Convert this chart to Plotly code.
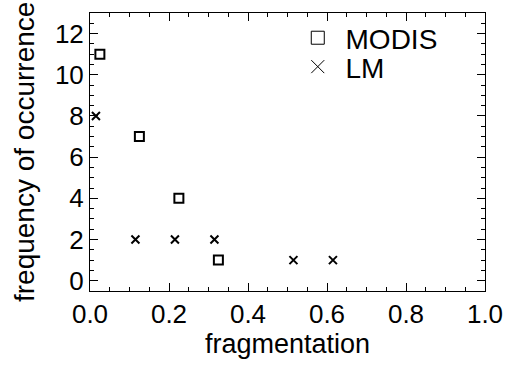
import plotly.graph_objects as go

modis_x = [0.025, 0.125, 0.225, 0.325]
modis_y = [11, 7, 4, 1]
lm_x = [0.015, 0.115, 0.215, 0.315, 0.515, 0.615]
lm_y = [8, 2, 2, 2, 1, 1]

FONT = "Liberation Sans, Arial, sans-serif"
FS = 26

fig = go.Figure()
fig.add_trace(go.Scatter(x=modis_x, y=modis_y, mode="markers", showlegend=False,
                         marker=dict(symbol="square-open", size=9, color="black",
                                     line=dict(width=2, color="black"))))
fig.add_trace(go.Scatter(x=lm_x, y=lm_y, mode="markers", showlegend=False,
                         marker=dict(symbol="x-thin-open", size=8, color="black",
                                     line=dict(width=2, color="black"))))
# legend entries
fig.add_trace(go.Scatter(x=[None], y=[None], mode="markers", name="\u00a0MODIS", legend="legend",
                         marker=dict(symbol="square-open", size=13, color="black",
                                     line=dict(width=1, color="black"))))
fig.add_trace(go.Scatter(x=[None], y=[None], mode="markers", name="\u00a0LM", legend="legend2",
                         marker=dict(symbol="x-thin-open", size=13, color="black",
                                     line=dict(width=1, color="black"))))

axis_common = dict(showgrid=False, zeroline=False, showline=True, linecolor="black",
                   linewidth=1, mirror="ticks", ticks="inside", ticklen=8,
                   tickcolor="black", tickwidth=1,
                   tickfont=dict(family=FONT, size=FS, color="black"))

fig.update_xaxes(range=[0, 1.0], dtick=0.2, tickformat=".1f",
                 minor=dict(dtick=0.05, ticks="inside", ticklen=4, tickcolor="black"),
                 title=dict(text="fragmentation", font=dict(family=FONT, size=27, color="black"),
                            standoff=4),
                 **axis_common)
fig.update_yaxes(range=[-0.5, 13], dtick=2,
                 minor=dict(dtick=0.5, ticks="inside", ticklen=4, tickcolor="black"),
                 **axis_common)

fig.add_annotation(text="frequency of occurrence", xref="paper", yref="paper",
                   x=-0.167, y=0.5, xanchor="center", yanchor="middle", textangle=-90,
                   showarrow=False, font=dict(family=FONT, size=28, color="black"))

leg_common = dict(xanchor="left", yanchor="middle", bgcolor="rgba(0,0,0,0)",
                  font=dict(family=FONT, size=28, color="black"))
fig.update_layout(width=515, height=367, margin=dict(l=90, r=21, t=13, b=76),
                  plot_bgcolor="white", paper_bgcolor="white",
                  font=dict(family=FONT, color="black"),
                  legend=dict(x=0.526, y=0.91, **leg_common),
                  legend2=dict(x=0.526, y=0.806, **leg_common))

fig.write_html("out.html")
